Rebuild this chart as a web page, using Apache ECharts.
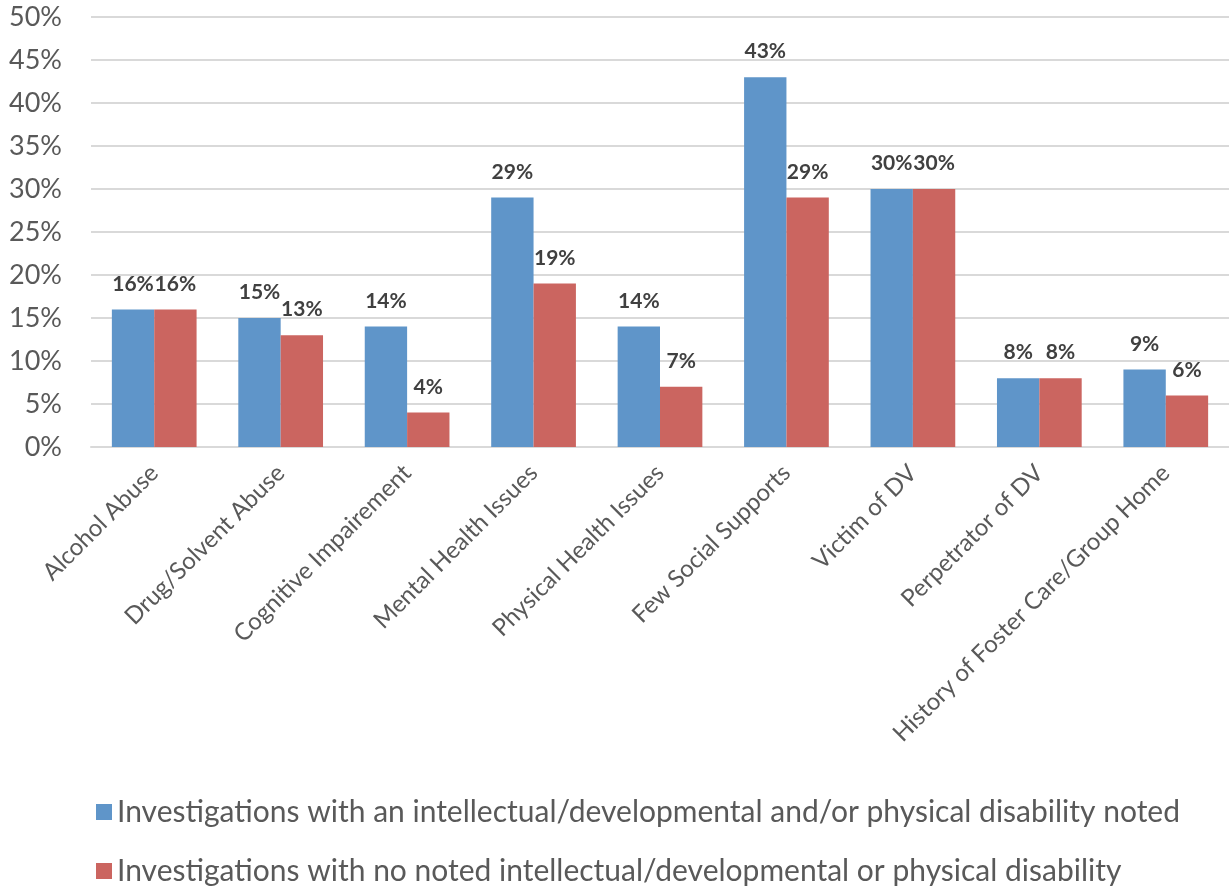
<!DOCTYPE html>
<html><head><meta charset="utf-8">
<script src="https://cdn.jsdelivr.net/npm/echarts@6/dist/echarts.min.js"></script>
<style>html,body{margin:0;padding:0;background:#fff}#c{width:1229px;height:886px}</style>
</head><body><div id="c"></div>
<script>
const categories = ["Alcohol Abuse","Drug/Solvent Abuse","Cognitive Impairement","Mental Health Issues","Physical Health Issues","Few Social Supports","Victim of DV","Perpetrator of DV","History of Foster Care/Group Home"];
const seriesNames = ["Investigations with an intellectual/developmental and/or physical disability noted","Investigations with no noted intellectual/developmental or physical disability"];
const disabilityValues = [16,15,14,29,14,43,30,8,9];
const noDisabilityValues = [16,13,4,19,7,29,30,8,6];
const FONT = "Lato, 'Open Sans', sans-serif";
const chart = echarts.init(document.getElementById('c'));
const lbl = {show:true,position:'top',distance:15,formatter:'{c}%',fontFamily:FONT,fontWeight:'bold',fontSize:21,color:'#404040'};
const legendBase = {orient:'horizontal',left:91,itemWidth:16,itemHeight:16,icon:'rect',
    textStyle:{fontFamily:FONT,fontSize:30,color:'#595959',padding:[0,0,0,0]}};
chart.setOption({
  animation:false,
  grid:{left:91,right:0,top:17,bottom:439,containLabel:false},
  legend:[
    Object.assign({}, legendBase, {top:792, data:[seriesNames[0]]}),
    Object.assign({}, legendBase, {top:851, data:[seriesNames[1]]})
  ],
  xAxis:{type:'category',data:categories,
    axisLine:{lineStyle:{color:'#d9d9d9',width:2}},axisTick:{show:false},
    axisLabel:{interval:0,rotate:45,fontFamily:FONT,fontSize:24,color:'#595959',margin:22}},
  yAxis:{type:'value',min:0,max:50,interval:5,
    axisLabel:{formatter:'{value}%',fontFamily:FONT,fontSize:27,color:'#595959',margin:29},
    splitLine:{lineStyle:{color:'#d9d9d9',width:2}},axisLine:{show:false},axisTick:{show:false}},
  series:[
    {name:seriesNames[0],type:'bar',data:disabilityValues,barGap:'0%',barCategoryGap:'33%',
      itemStyle:{color:'#5F95C9'},label:lbl},
    {name:seriesNames[1],type:'bar',data:noDisabilityValues,
      itemStyle:{color:'#CB6560'},label:lbl}
  ]
});
</script></body></html>
